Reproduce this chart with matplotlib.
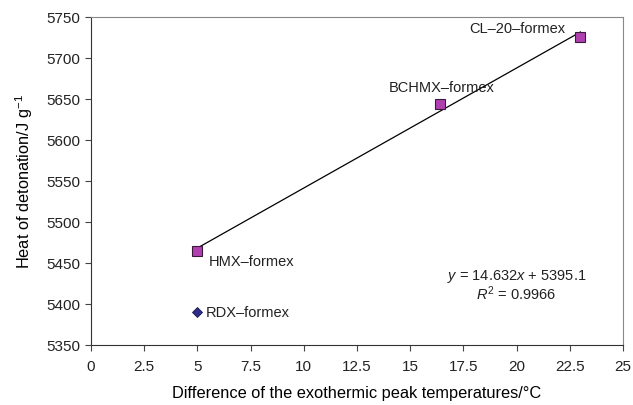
import numpy as np
import matplotlib.pyplot as plt

plt.rcParams["font.family"] = ["Liberation Sans", "DejaVu Sans"]
plt.rcParams["text.color"] = "#222222"
plt.rcParams["mathtext.fontset"] = "custom"
plt.rcParams["mathtext.rm"] = "Liberation Sans"
plt.rcParams["mathtext.it"] = "Liberation Sans:italic"

# data
names = ["HMX–formex", "BCHMX–formex", "CL–20–formex"]
dt = [5.0, 16.4, 23.0]
heat = [5464, 5644, 5726]
rdx_dt = [5.0]
rdx_heat = [5390]
slope, intercept = 14.632, 5395.1
fit_x = np.array([5.0, 23.0])

fig = plt.figure(figsize=(6.33, 4.06), dpi=100)
ax = fig.add_axes([0.1438, 0.1478, 0.8404, 0.808])

ax.plot(fit_x, slope * fit_x + intercept, color="black", lw=0.9, zorder=2)
ax.plot(dt, heat, "s", ms=7, mfc="#b040b0", mec="#3a1a3a", mew=0.8, zorder=3)
ax.plot(rdx_dt, rdx_heat, "D", ms=5.5, mfc="#302c8a", mec="#1a1850", mew=0.6, zorder=3)

fs = 10.5
ax.annotate(names[0], (dt[0], heat[0]), xytext=(8, -6.5), textcoords="offset points",
            fontsize=fs, va="center")
ax.annotate(names[1], (dt[1], heat[1]), xytext=(-37, 12), textcoords="offset points",
            fontsize=fs, va="center")
ax.annotate(names[2], (dt[2], heat[2]), xytext=(-11, 6), textcoords="offset points",
            fontsize=fs, va="center", ha="right")
ax.annotate("RDX–formex", (rdx_dt[0], rdx_heat[0]), xytext=(6, 0), textcoords="offset points",
            fontsize=fs, va="center")

ax.text(20.0, 5435, r"$y$ = 14.632$x$ + 5395.1", ha="center", va="center", fontsize=fs)
ax.text(20.0, 5414, r"$R^2$ = 0.9966", ha="center", va="center", fontsize=fs)

ax.set_xlim(0, 25)
ax.set_ylim(5350, 5750)
ax.set_xticks(np.arange(0, 25.1, 2.5))
ax.set_xticklabels(["0", "2.5", "5", "7.5", "10", "12.5", "15", "17.5", "20", "22.5", "25"])
ax.set_yticks(np.arange(5350, 5751, 50))
ax.tick_params(direction="out", length=4, labelsize=11, color="#444444", labelcolor="#222222")
ax.tick_params(axis="x", pad=6)
for s in ["top", "right"]:
    ax.spines[s].set_color("#888888")
for s in ["left", "bottom"]:
    ax.spines[s].set_color("#333333")
ax.set_xlabel("Difference of the exothermic peak temperatures/°C", fontsize=11.8, labelpad=9)
ax.set_ylabel("Heat of detonation/J g$^{-1}$", fontsize=11.8, labelpad=8)

fig.savefig("out.png", dpi=100)
